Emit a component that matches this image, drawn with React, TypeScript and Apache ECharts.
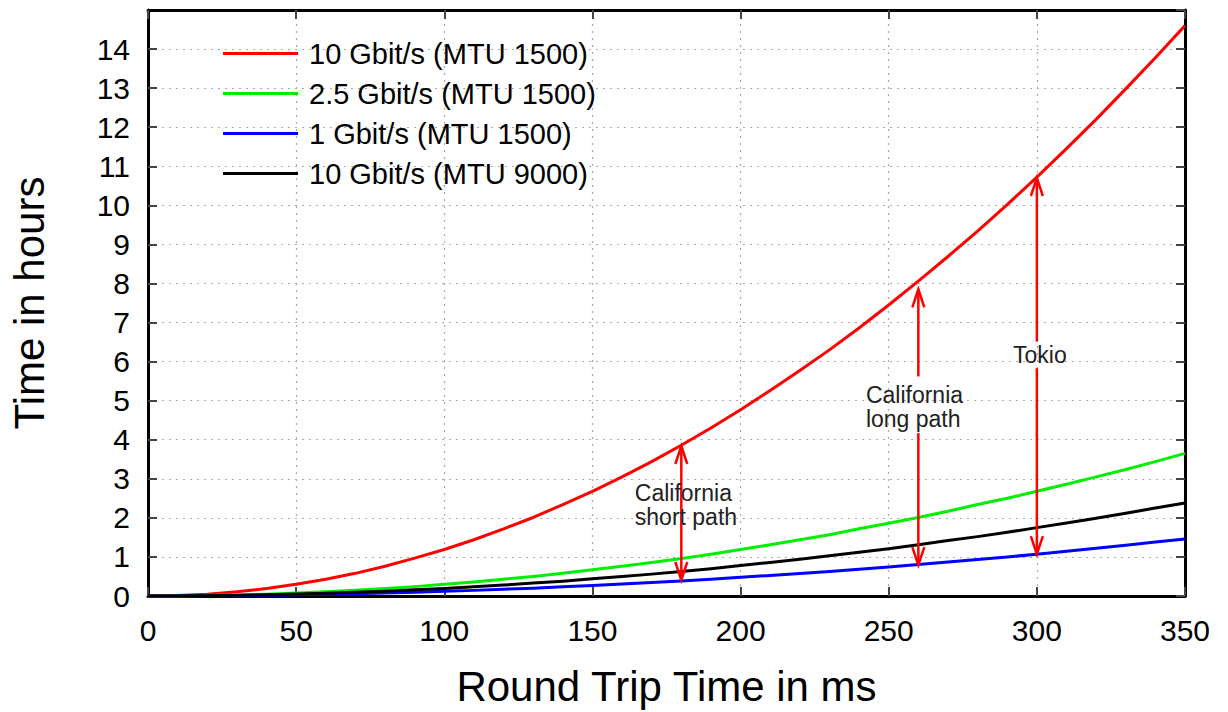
import React, { useEffect, useRef } from "react";
import * as echarts from "echarts";

const rtt = [0, 10, 20, 30, 40, 50, 60, 70, 80, 90, 100, 110, 120, 130, 140, 150, 160, 170, 180, 190, 200, 210, 220, 230, 240, 250, 260, 270, 280, 290, 300, 310, 320, 330, 340, 350];
const red10g1500 = [0, 0.012, 0.048, 0.107, 0.19, 0.3, 0.43, 0.58, 0.76, 0.97, 1.19, 1.44, 1.72, 2.01, 2.34, 2.68, 3.05, 3.44, 3.86, 4.3, 4.77, 5.26, 5.77, 6.3, 6.86, 7.45, 8.06, 8.69, 9.34, 10.02, 10.72, 11.45, 12.2, 12.98, 13.78, 14.6];
const green25g1500 = [0, 0.003, 0.012, 0.027, 0.048, 0.075, 0.107, 0.146, 0.19, 0.24, 0.3, 0.36, 0.43, 0.5, 0.58, 0.67, 0.76, 0.86, 0.96, 1.07, 1.19, 1.31, 1.44, 1.57, 1.72, 1.86, 2.01, 2.17, 2.34, 2.5, 2.68, 2.86, 3.05, 3.24, 3.44, 3.65];
const blue1g1500 = [0, 0.001, 0.005, 0.011, 0.019, 0.03, 0.043, 0.058, 0.076, 0.097, 0.12, 0.144, 0.172, 0.2, 0.234, 0.27, 0.305, 0.344, 0.386, 0.43, 0.477, 0.526, 0.577, 0.63, 0.686, 0.745, 0.806, 0.869, 0.934, 1.0, 1.07, 1.145, 1.22, 1.3, 1.38, 1.46];
const black10g9000 = [0, 0.002, 0.008, 0.017, 0.031, 0.049, 0.07, 0.095, 0.124, 0.158, 0.195, 0.235, 0.28, 0.33, 0.38, 0.44, 0.5, 0.56, 0.63, 0.7, 0.78, 0.86, 0.94, 1.03, 1.12, 1.21, 1.31, 1.42, 1.52, 1.63, 1.75, 1.87, 1.99, 2.12, 2.25, 2.38];

const seriesNames = [
  "10 Gbit/s (MTU 1500)",
  "2.5 Gbit/s (MTU 1500)",
  "1 Gbit/s (MTU 1500)",
  "10 Gbit/s (MTU 9000)",
];
const seriesColors = ["#ff0000", "#00ee00", "#0000ff", "#000000"];

// arrows: [x, yFrom, yTo, headAtFrom, headAtTo]
const arrows = [
  [180, 3.84, 0.41, 1, 1],
  [260, 7.85, 5.62, 1, 0],
  [260, 4.17, 0.79, 0, 1],
  [300, 10.7, 6.51, 1, 0],
  [300, 5.83, 1.07, 0, 1],
];
// annotations: [x, y, text, align]
const annotations: [number, number, string, string][] = [
  [164.3, 2.32, "California\nshort path", "left"],
  [242.3, 4.83, "California\nlong path", "left"],
  [301, 6.16, "Tokio", "center"],
];

const FONT = "'Liberation Sans', Arial, Helvetica, sans-serif";

export default function App() {
  const ref = useRef<HTMLDivElement>(null);
  useEffect(() => {
    if (!ref.current) return;
    const chart = echarts.init(ref.current, undefined, { renderer: "svg" });
    const lineSeries = [red10g1500, green25g1500, blue1g1500, black10g9000].map((vals, i) => ({
      name: seriesNames[i],
      type: "line",
      xAxisIndex: 0,
      yAxisIndex: 0,
      smooth: false,
      symbol: "none",
      data: rtt.map((x, j) => [x, vals[j]]),
      lineStyle: { color: seriesColors[i], width: 3, join: "round" },
      itemStyle: { color: seriesColors[i] },
      z: 3,
    }));
    const commonTick = { show: true, inside: true, length: 9, lineStyle: { color: "#444", width: 2 } };
    const axisLine = { show: true, onZero: false, lineStyle: { color: "#000", width: 3 } };
    chart.setOption({
      animation: false,
      grid: { left: 145, right: 43, top: 10, bottom: 114, containLabel: false },
      legend: {
        orient: "vertical",
        left: 218,
        top: 34,
        itemWidth: 75,
        itemHeight: 3,
        itemGap: 11,
        icon: "rect",
        selectedMode: false,
        data: seriesNames,
        textStyle: { fontFamily: FONT, fontSize: 29, color: "#000", padding: [0, 0, 0, 6], lineHeight: 28, height: 28 },
      },
      xAxis: [
        {
          type: "value",
          min: 0,
          max: 350,
          interval: 50,
          position: "bottom",
          axisLine,
          axisTick: commonTick,
          axisLabel: { color: "#000", fontSize: 30, fontFamily: FONT, margin: 19 },
          splitLine: { show: true, lineStyle: { color: "#aaa", type: [2, 5], width: 1.2 } },
          name: "Round Trip Time in ms",
          nameLocation: "middle",
          nameGap: 69,
          nameTextStyle: { color: "#000", fontSize: 42, fontFamily: FONT },
        },
        {
          type: "value",
          min: 0,
          max: 350,
          interval: 50,
          position: "top",
          axisLine,
          axisTick: commonTick,
          axisLabel: { show: false },
          splitLine: { show: false },
        },
      ],
      yAxis: [
        {
          type: "value",
          min: 0,
          max: 15,
          interval: 1,
          position: "left",
          axisLine,
          axisTick: commonTick,
          axisLabel: { color: "#000", fontSize: 30, fontFamily: FONT, margin: 18, showMaxLabel: false },
          splitLine: { show: true, lineStyle: { color: "#aaa", type: [2, 5], width: 1.2 } },
          name: "Time in hours",
          nameLocation: "middle",
          nameGap: 98,
          nameRotate: 90,
          nameTextStyle: { color: "#000", fontSize: 42, fontFamily: FONT },
        },
        {
          type: "value",
          min: 0,
          max: 15,
          interval: 1,
          position: "right",
          axisLine,
          axisTick: commonTick,
          axisLabel: { show: false },
          splitLine: { show: false },
        },
      ],
      series: [
        ...lineSeries,
        {
          type: "custom",
          name: "arrows",
          xAxisIndex: 0,
          yAxisIndex: 0,
          z: 4,
          encode: { x: 0, y: [1, 2] },
          data: arrows,
          renderItem: (params: any, api: any) => {
            const x = api.value(0);
            const p1 = api.coord([x, api.value(1)]);
            const p2 = api.coord([x, api.value(2)]);
            const children: any[] = [
              {
                type: "line",
                shape: { x1: p1[0], y1: p1[1], x2: p2[0], y2: p2[1] },
                style: { stroke: "#ff0000", lineWidth: 2.5 },
              },
            ];
            const head = (tip: number[], other: number[]) => {
              const dir = other[1] > tip[1] ? 1 : -1;
              const L = 18;
              const W = 6;
              return {
                type: "polyline",
                shape: { points: [[tip[0] - W, tip[1] + dir * L], [tip[0], tip[1]], [tip[0] + W, tip[1] + dir * L]] },
                style: { stroke: "#ff0000", lineWidth: 2.5, fill: null },
              };
            };
            if (api.value(3)) children.push(head(p1, p2));
            if (api.value(4)) children.push(head(p2, p1));
            return { type: "group", children };
          },
        },
        {
          type: "custom",
          name: "labels",
          xAxisIndex: 0,
          yAxisIndex: 0,
          z: 5,
          encode: { x: 0, y: 1 },
          data: annotations.map((a) => [a[0], a[1]]),
          renderItem: (params: any, api: any) => {
            const a = annotations[params.dataIndex];
            const p = api.coord([api.value(0), api.value(1)]);
            return {
              type: "text",
              x: p[0],
              y: p[1],
              style: {
                text: a[2],
                align: a[3],
                verticalAlign: "middle",
                fontSize: 23,
                lineHeight: 24,
                fontFamily: FONT,
                fill: "#222",
              },
            };
          },
        },
      ],
    });
    return () => chart.dispose();
  }, []);
  return (
    <div
      ref={ref}
      style={{ position: "fixed", left: 0, top: 0, width: 1228, height: 712, background: "#fff" }}
    />
  );
}
